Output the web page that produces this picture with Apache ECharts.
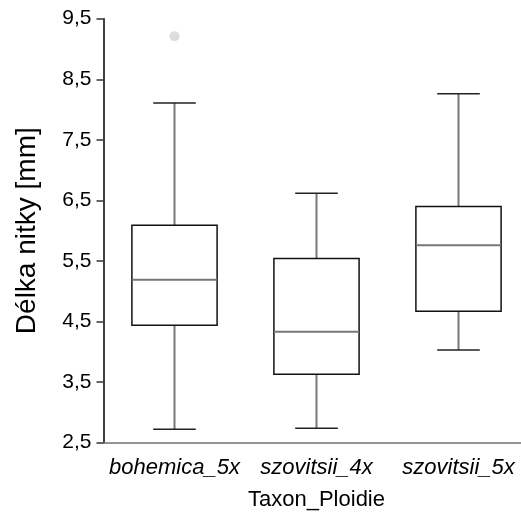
<!DOCTYPE html>
<html><head><meta charset="utf-8">
<script src="https://cdn.jsdelivr.net/npm/echarts@6/dist/echarts.min.js"></script>
<style>html,body{margin:0;padding:0;background:#fff}#c{width:521px;height:512px}</style>
</head><body><div id="c"></div>
<script>
const categories = ['bohemica_5x', 'szovitsii_4x', 'szovitsii_5x'];
const whiskerLow = [2.72, 2.74, 4.03];
const q1 = [4.44, 3.63, 4.67];
const median = [5.19, 4.33, 5.76];
const q3 = [6.09, 5.54, 6.40];
const whiskerHigh = [8.11, 6.62, 8.26];
const outliers = [[0, 9.21]];
const yTicks = [2.5, 3.5, 4.5, 5.5, 6.5, 7.5, 8.5, 9.5];

const boxData = categories.map((c, i) => [i, whiskerLow[i], q1[i], median[i], q3[i], whiskerHigh[i]]);

const chart = echarts.init(document.getElementById('c'));
chart.setOption({
  animation: false,
  backgroundColor: '#fff',
  grid: { left: 103.5, top: 18.7, width: 426, bottom: 69.3, outerBoundsMode: 'none', containLabel: false },
  xAxis: {
    type: 'category',
    data: categories,
    name: 'Taxon_Ploidie',
    nameLocation: 'middle',
    nameGap: 46,
    nameTextStyle: { fontFamily: 'Liberation Sans', fontSize: 22, color: '#000' },
    axisLine: { lineStyle: { color: '#707070', width: 1.5 } },
    axisTick: { alignWithLabel: true, length: 5, lineStyle: { color: '#707070', width: 1.5 } },
    axisLabel: { interval: 0, fontFamily: 'Liberation Sans', fontStyle: 'italic', fontSize: 22, color: '#000', margin: 14 },
    splitLine: { show: false }
  },
  yAxis: {
    type: 'value',
    min: 2.5, max: 9.5,
    name: 'Délka nitky [mm]',
    nameLocation: 'middle',
    nameGap: 62,
    nameTextStyle: { fontFamily: 'Liberation Sans', fontSize: 28, color: '#000' },
    axisLine: { show: true, lineStyle: { color: '#000', width: 1.5 } },
    axisTick: { show: true, length: 7, customValues: yTicks, lineStyle: { color: '#333', width: 1.5 } },
    axisLabel: { customValues: yTicks, fontFamily: 'Liberation Sans', fontSize: 21, color: '#000', margin: 12,
      formatter: v => v.toFixed(1).replace('.', ',') },
    splitLine: { show: false }
  },
  series: [
    {
      type: 'custom',
      data: boxData,
      renderItem: function (params, api) {
        const x = api.value(0);
        const band = api.size([1, 0])[0];
        const bw = band * 0.6, cw = band * 0.3;
        const pLow = api.coord([x, api.value(1)]);
        const pQ1 = api.coord([x, api.value(2)]);
        const pMed = api.coord([x, api.value(3)]);
        const pQ3 = api.coord([x, api.value(4)]);
        const pHigh = api.coord([x, api.value(5)]);
        const cx = pQ1[0];
        const gray = { stroke: '#777', lineWidth: 2 };
        const cap = { stroke: '#222', lineWidth: 1.5 };
        return {
          type: 'group',
          children: [
            { type: 'line', shape: { x1: cx, y1: pQ3[1], x2: cx, y2: pHigh[1] }, style: gray },
            { type: 'line', shape: { x1: cx, y1: pQ1[1], x2: cx, y2: pLow[1] }, style: gray },
            { type: 'line', shape: { x1: cx - cw / 2, y1: pHigh[1], x2: cx + cw / 2, y2: pHigh[1] }, style: cap },
            { type: 'line', shape: { x1: cx - cw / 2, y1: pLow[1], x2: cx + cw / 2, y2: pLow[1] }, style: cap },
            { type: 'rect', shape: { x: cx - bw / 2, y: pQ3[1], width: bw, height: pQ1[1] - pQ3[1] },
              style: { fill: '#fff', stroke: '#111', lineWidth: 1.5 } },
            { type: 'line', shape: { x1: cx - bw / 2, y1: pMed[1], x2: cx + bw / 2, y2: pMed[1] }, style: { stroke: '#777', lineWidth: 2 } }
          ]
        };
      }
    },
    {
      type: 'scatter',
      data: outliers,
      symbol: 'circle',
      symbolSize: 10,
      itemStyle: { color: '#d3d3d3' }
    }
  ]
});
</script>
</body></html>
